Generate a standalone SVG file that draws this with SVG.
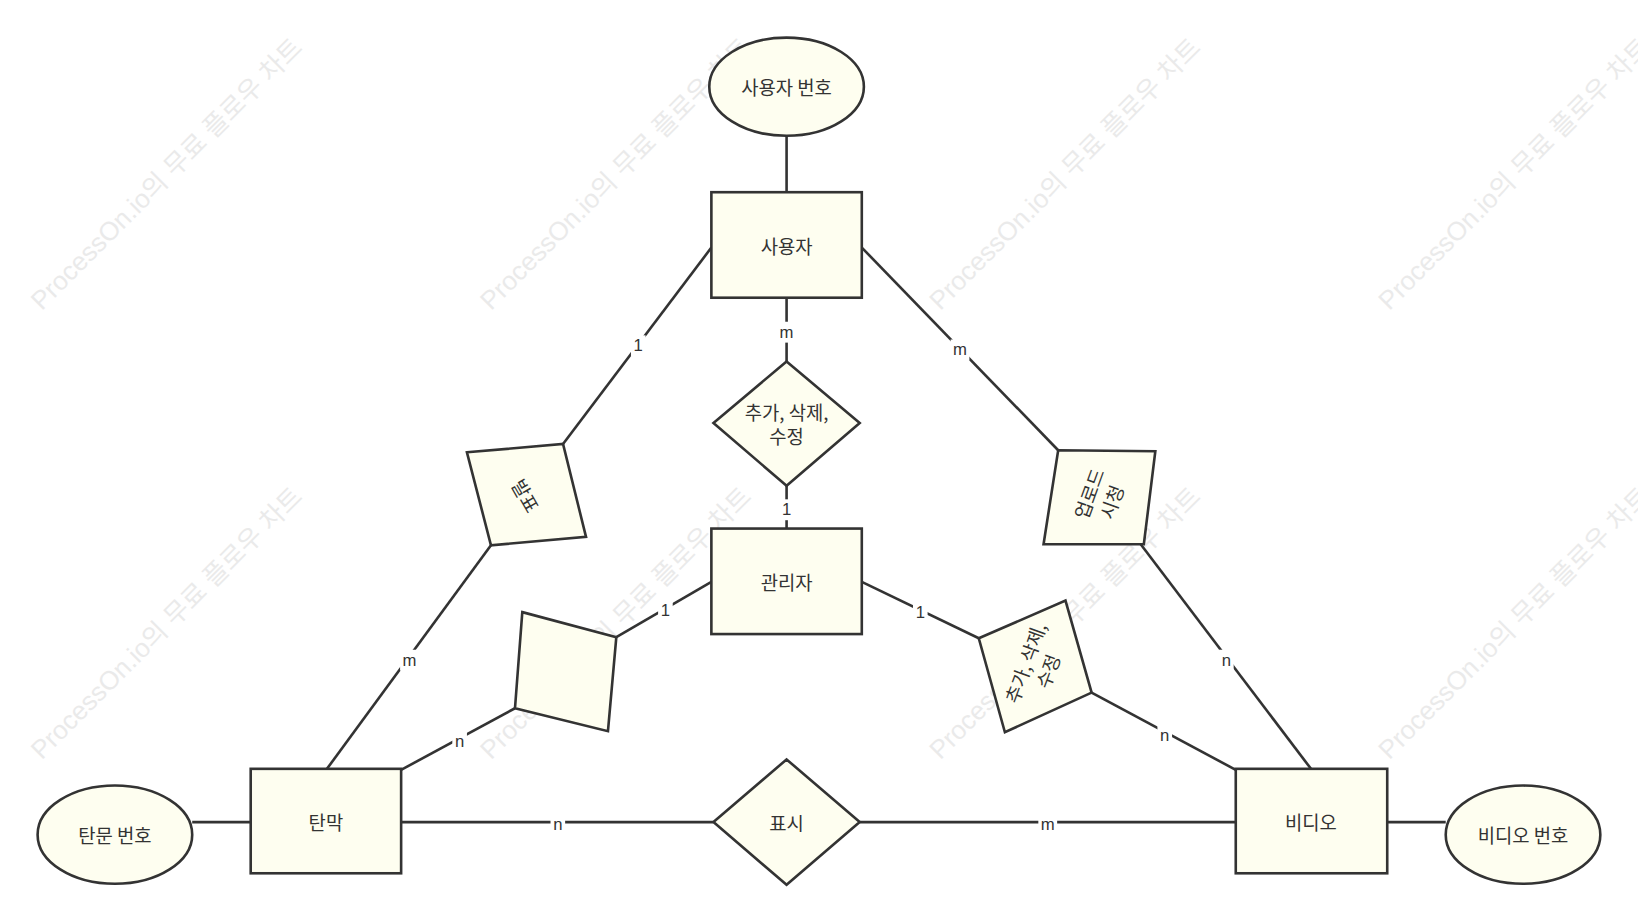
<svg xmlns="http://www.w3.org/2000/svg" width="1638" height="921" viewBox="0 0 1638 921">
<style>
.s{fill:#fefef0;stroke:#333;stroke-width:2.5}
.t{font-family:"Noto Sans CJK KR","Liberation Sans",sans-serif;font-size:18px;fill:#333;text-anchor:middle;dominant-baseline:central}
.c line{stroke:#333;stroke-width:2.5}
.l{font-family:"Liberation Sans",sans-serif;font-size:16px;fill:#333;text-anchor:middle;dominant-baseline:central}
.lb{fill:#fff}
.w{font-family:"Liberation Sans","Noto Sans CJK KR",sans-serif;font-size:25px;fill:#ddd;opacity:0.6}
</style>
<rect width="1638" height="921" fill="#fff"/>
<g transform="scale(1.0446)">
<g id="watermarks">
<text class="w" transform="translate(40,298) rotate(-45)">ProcessOn.io의 무료 플로우 차트</text>
<text class="w" transform="translate(470,298) rotate(-45)">ProcessOn.io의 무료 플로우 차트</text>
<text class="w" transform="translate(900,298) rotate(-45)">ProcessOn.io의 무료 플로우 차트</text>
<text class="w" transform="translate(1330,298) rotate(-45)">ProcessOn.io의 무료 플로우 차트</text>
<text class="w" transform="translate(40,728) rotate(-45)">ProcessOn.io의 무료 플로우 차트</text>
<text class="w" transform="translate(470,728) rotate(-45)">ProcessOn.io의 무료 플로우 차트</text>
<text class="w" transform="translate(900,728) rotate(-45)">ProcessOn.io의 무료 플로우 차트</text>
<text class="w" transform="translate(1330,728) rotate(-45)">ProcessOn.io의 무료 플로우 차트</text>
</g>
<g class="c" id="connectors">
<line x1="753" y1="130" x2="753" y2="184"/>
<line x1="681" y1="237" x2="539" y2="425"/>
<line x1="470" y1="522" x2="313" y2="736"/>
<line x1="753" y1="285" x2="753" y2="346"/>
<line x1="753" y1="465" x2="753" y2="506"/>
<line x1="825" y1="237" x2="1013" y2="431"/>
<line x1="1092" y1="521" x2="1255" y2="736"/>
<line x1="681" y1="557" x2="590" y2="610"/>
<line x1="493" y1="678" x2="384" y2="737"/>
<line x1="825" y1="557" x2="937" y2="611"/>
<line x1="1045" y1="663" x2="1183" y2="737"/>
<line x1="384" y1="787" x2="683" y2="787"/>
<line x1="823" y1="787" x2="1183" y2="787"/>
<line x1="240" y1="787" x2="184" y2="787"/>
<line x1="1328" y1="787" x2="1384" y2="787"/>
<g>
<rect class="lb" x="604" y="321" width="14" height="20"/><text class="l" x="611" y="331">1</text>
<rect class="lb" x="383" y="622" width="18" height="20"/><text class="l" x="392" y="632">m</text>
<rect class="lb" x="744" y="308" width="18" height="20"/><text class="l" x="753" y="318">m</text>
<rect class="lb" x="746" y="478" width="14" height="20"/><text class="l" x="753" y="488">1</text>
<rect class="lb" x="910" y="325" width="18" height="20"/><text class="l" x="919" y="335">m</text>
<rect class="lb" x="1167" y="622" width="14" height="20"/><text class="l" x="1174" y="632">n</text>
<rect class="lb" x="630" y="574" width="14" height="20"/><text class="l" x="637" y="584">1</text>
<rect class="lb" x="433" y="700" width="14" height="20"/><text class="l" x="440" y="710">n</text>
<rect class="lb" x="874" y="576" width="14" height="20"/><text class="l" x="881" y="586">1</text>
<rect class="lb" x="1108" y="694" width="14" height="20"/><text class="l" x="1115" y="704">n</text>
<rect class="lb" x="527" y="779" width="14" height="20"/><text class="l" x="534" y="789">n</text>
<rect class="lb" x="994" y="779" width="18" height="20"/><text class="l" x="1003" y="789">m</text>
</g>
</g>
<g id="n_userno"><ellipse class="s" cx="753" cy="83" rx="74" ry="47"/><text class="t" x="753" y="83">사용자 번호</text></g>
<g id="n_user"><rect class="s" x="681" y="184" width="144" height="101"/><text class="t" x="753" y="235">사용자</text></g>
<g id="n_admin"><rect class="s" x="681" y="506" width="144" height="101"/><text class="t" x="753" y="557">관리자</text></g>
<g id="n_danmak"><rect class="s" x="240" y="736" width="144" height="100"/><text class="t" x="312" y="786">탄막</text></g>
<g id="n_video"><rect class="s" x="1183" y="736" width="145" height="100"/><text class="t" x="1255" y="786">비디오</text></g>
<g id="n_danno"><ellipse class="s" cx="110" cy="799" rx="74" ry="47"/><text class="t" x="110" y="799">탄문 번호</text></g>
<g id="n_videono"><ellipse class="s" cx="1458" cy="799" rx="74" ry="47"/><text class="t" x="1458" y="799">비디오 번호</text></g>
<g id="r_crud"><polygon class="s" points="753,346 823,405 753,465 683,405"/><text class="t" x="753" y="394">추가, 삭제,</text><text class="t" x="753" y="417">수정</text></g>
<g id="r_show"><polygon class="s" points="753,727 823,787 753,847 683,787"/><text class="t" x="753" y="787">표시</text></g>
<g id="r_post"><polygon class="s" points="447,433 539,425 561,514 470,522"/><text class="t" transform="translate(504,474) rotate(60)">발표</text></g>
<g id="r_blank"><polygon class="s" points="500,586 590,610 582,700 493,678"/></g>
<g id="r_upload"><polygon class="s" points="1013,431 1106,432 1095,521 999,521"/><g transform="translate(1052,476) rotate(-70)"><text class="t" x="0" y="-11">업로드</text><text class="t" x="0" y="12">시청</text></g></g>
<g id="r_crud2"><polygon class="s" points="937,611 1020,575 1045,663 962,701"/><g transform="translate(991,638) rotate(-70)"><text class="t" x="0" y="-11">추가, 삭제,</text><text class="t" x="0" y="12">수정</text></g></g>
</g>
</svg>
